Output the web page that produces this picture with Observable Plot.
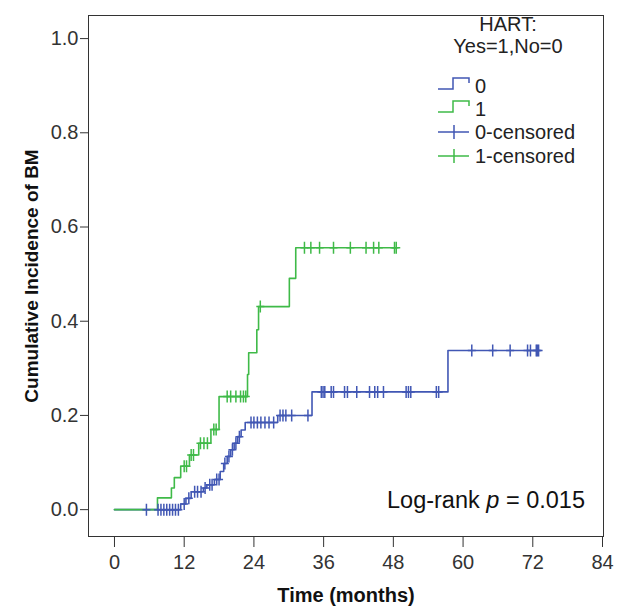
<!DOCTYPE html>
<html><head><meta charset="utf-8">
<script src="https://cdn.jsdelivr.net/npm/d3@7"></script>
<script src="https://cdn.jsdelivr.net/npm/@observablehq/plot@0.6"></script>
<style>body{margin:0;background:#fff;}</style>
</head><body><div id="chart"></div>
<script>
// Group HART = 0 (blue): event times and cumulative incidence after each step
const times0 = [0, 11.4, 12.3, 13.2, 15.3, 15.9, 17.2, 18.2, 18.8, 19.4, 20.0, 20.6, 21.2, 21.8, 22.5, 28.1, 34.0, 57.4];
const cum0   = [0, 0.012, 0.024, 0.038, 0.046, 0.053, 0.064, 0.081, 0.098, 0.113, 0.127, 0.141, 0.155, 0.169, 0.185, 0.200, 0.250, 0.338];
const end0 = 73.0;
const censored0 = [5.5, 7.5, 8.0, 8.5, 9.0, 9.5, 10.0, 10.5, 11.0, 12.0, 12.8, 13.8, 14.3, 14.9, 15.6, 16.4, 16.8, 17.6, 18.0,
  19.0, 19.7, 20.3, 20.9, 21.5, 23.5, 24.0, 24.6, 25.2, 25.9, 26.6, 27.4, 28.5, 29.0, 29.5, 30.5, 33.3,
  35.6, 35.9, 36.2, 37.3, 37.7, 39.6, 40.1, 41.7, 43.9, 44.8, 45.3, 46.3, 50.2, 50.6, 51.0, 55.4, 55.8,
  61.5, 65.1, 68.1, 71.1, 71.6, 72.6, 72.8, 73.0];

// Group HART = 1 (green)
const times1 = [0, 7.4, 9.8, 10.3, 11.4, 12.9, 14.5, 16.6, 18.0, 22.9, 23.1, 24.5, 24.8, 30.1, 31.2];
const cum1   = [0, 0.025, 0.046, 0.068, 0.092, 0.116, 0.141, 0.170, 0.240, 0.287, 0.333, 0.382, 0.431, 0.491, 0.556];
const end1 = 48.5;
const censored1 = [12.0, 12.4, 13.2, 13.6, 14.8, 15.4, 16.0, 17.1, 17.5, 19.4, 20.0, 20.9, 21.7, 22.2, 22.6, 25.1,
  32.7, 33.8, 35.3, 37.7, 40.6, 43.3, 44.6, 45.5, 48.2, 48.5];

const xTicks = [0, 12, 24, 36, 48, 60, 72, 84];
const yTicks = [0, 0.2, 0.4, 0.6, 0.8, 1.0];
const legendTitle = ["HART:", "Yes=1,No=0"];
const legendLabels = ["0", "1", "0-censored", "1-censored"];
const blue = "#4157b4", green = "#3fba48";

function series(times, cum, end) {
  const rows = times.map((t, i) => ({t, v: cum[i]}));
  rows.push({t: end, v: cum[cum.length - 1]});
  return rows;
}
function censorRows(times, cum, cens) {
  return cens.map(t => ({t, v: cum[Math.max(0, d3.bisectRight(times, t) - 1)]}));
}
const line0 = series(times0, cum0, end0), line1 = series(times1, cum1, end1);
const cens0 = censorRows(times0, cum0, censored0), cens1 = censorRows(times1, cum1, censored1);

const censorSymbol = {draw(ctx) { ctx.moveTo(0, -6); ctx.lineTo(0, 6); ctx.moveTo(-4, 0); ctx.lineTo(4, 0); }};

const svg = Plot.plot({
  width: 619, height: 606,
  marginLeft: 88, marginRight: 16, marginTop: 15, marginBottom: 70,
  style: {fontFamily: "'Liberation Sans', Arial, sans-serif", fontSize: "20px", color: "#333", background: "#fff"},
  x: {domain: [-4.47, 84.17], ticks: xTicks, tickSize: 11, tickPadding: 7, label: null},
  y: {domain: [-0.057, 1.049], ticks: yTicks, tickFormat: d3.format(".1f"), tickSize: 8, tickPadding: 2, label: null},
  marks: [
    Plot.frame({stroke: "#333"}),
    Plot.line(line0, {x: "t", y: "v", curve: "step-after", stroke: blue, strokeWidth: 1.6}),
    Plot.line(line1, {x: "t", y: "v", curve: "step-after", stroke: green, strokeWidth: 1.6}),
    Plot.dot(cens0, {x: "t", y: "v", symbol: censorSymbol, fill: "none", stroke: blue, strokeWidth: 1.5}),
    Plot.dot(cens1, {x: "t", y: "v", symbol: censorSymbol, fill: "none", stroke: green, strokeWidth: 1.5}),
    Plot.text(["Cumulative Incidence of BM"], {frameAnchor: "left", dx: -57, rotate: -90, textAnchor: "middle", lineAnchor: "middle", fontWeight: "bold", fontSize: 19, fill: "#111"}),
    Plot.text(["Time (months)"], {frameAnchor: "bottom", dy: 59, textAnchor: "middle", lineAnchor: "middle", fontWeight: "bold", fontSize: 20, fill: "#111"})
  ]
});
document.getElementById("chart").appendChild(svg);

// Legend and annotation inside the panel
const g = d3.select(svg).append("g").attr("font-family", "'Liberation Sans', Arial, sans-serif").attr("fill", "#222").attr("text-anchor", "start");
g.append("text").attr("x", 508).attr("y", 31).attr("text-anchor", "middle").attr("font-size", 20).text(legendTitle[0]);
g.append("text").attr("x", 508).attr("y", 53).attr("text-anchor", "middle").attr("font-size", 20).text(legendTitle[1]);
const rowY = [86, 109, 132, 156];
const rowColor = [blue, green, blue, green];
legendLabels.forEach((lab, i) => {
  const y = rowY[i];
  if (i < 2) {
    g.append("path").attr("d", `M438,${y + 3}H453V${y - 8}H469V${y - 3}`).attr("fill", "none").attr("stroke", rowColor[i]).attr("stroke-width", 1.5);
  } else {
    g.append("path").attr("d", `M438,${y}H469M454,${y - 7}V${y + 7}`).attr("fill", "none").attr("stroke", rowColor[i]).attr("stroke-width", 1.5);
  }
  g.append("text").attr("x", 475).attr("y", y + 7).attr("text-anchor", "start").attr("font-size", 20).text(lab);
});
const lr = g.append("text").attr("x", 387).attr("y", 508).attr("text-anchor", "start").attr("font-size", 23.5).attr("fill", "#111");
lr.append("tspan").text("Log-rank ");
lr.append("tspan").attr("font-style", "italic").text("p");
lr.append("tspan").text(" = 0.015");
</script>
</body></html>
